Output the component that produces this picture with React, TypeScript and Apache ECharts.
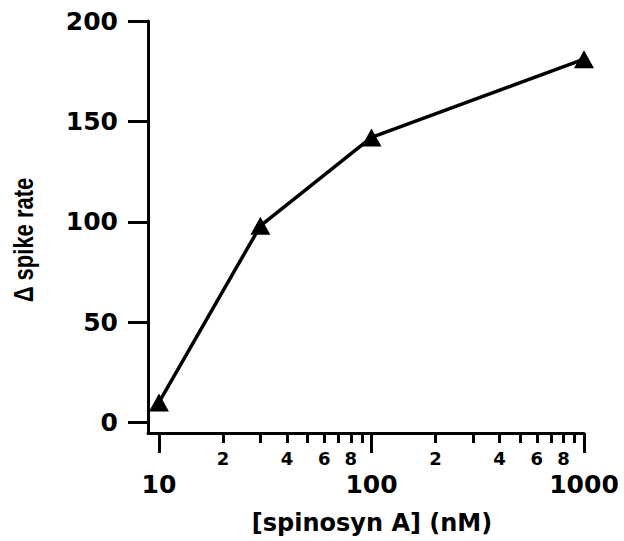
import React, { useEffect, useRef } from "react";
import * as echarts from "echarts";

// Data
const concentrations = [10, 30, 100, 1000];
const spikeRates = [10, 98, 142, 181];

// Axis ticks / labels
const majorTicks = [10, 100, 1000];
const minorTicks = [20, 30, 40, 50, 60, 70, 80, 90, 200, 300, 400, 500, 600, 700, 800, 900];
const minorLabels = [20, 40, 60, 80, 200, 400, 600, 800];
const yTicks = [0, 50, 100, 150, 200];

const xTitle = "[spinosyn A] (nM)";
const yTitle = "\u0394 spike rate";

const FONT = "DejaVu Sans";

export default function App() {
  const ref = useRef<HTMLDivElement>(null);

  useEffect(() => {
    if (!ref.current) return;
    const chart = echarts.init(ref.current, undefined, { renderer: "svg" });
    const xMin = 8.88;
    const xMax = 1000;
    const leadDigit = (v: number) => {
      const p = Math.pow(10, Math.floor(Math.log10(v) + 1e-9));
      return String(Math.round(v / p));
    };
    chart.setOption({
      animation: false,
      backgroundColor: "#ffffff",
      grid: { left: 148, right: 40, top: 21, bottom: 108, containLabel: false },
      xAxis: [
        {
          type: "log",
          logBase: 10,
          min: xMin,
          max: xMax,
          position: "bottom",
          axisLine: { show: true, onZero: false, lineStyle: { color: "#000", width: 3 } },
          axisTick: {
            show: true,
            customValues: majorTicks,
            length: 20,
            lineStyle: { color: "#000", width: 3 },
          },
          minorTick: { show: false },
          splitLine: { show: false },
          axisLabel: {
            customValues: majorTicks,
            margin: 39,
            color: "#000",
            fontFamily: FONT,
            fontWeight: "bold",
            fontSize: 25,
            formatter: (v: number) => String(Math.round(v)),
          },
        },
        {
          type: "log",
          logBase: 10,
          min: xMin,
          max: xMax,
          position: "bottom",
          axisLine: { show: false, onZero: false },
          axisTick: {
            show: true,
            customValues: minorTicks,
            length: 10,
            lineStyle: { color: "#000", width: 3 },
          },
          splitLine: { show: false },
          axisLabel: {
            customValues: minorLabels,
            margin: 16,
            color: "#000",
            fontFamily: FONT,
            fontWeight: "bold",
            fontSize: 18,
            formatter: (v: number) => leadDigit(v),
          },
        },
      ],
      yAxis: {
        type: "value",
        min: -5.2,
        max: 200,
        axisLine: { show: true, onZero: false, lineStyle: { color: "#000", width: 3 } },
        axisTick: {
          show: true,
          customValues: yTicks,
          length: 20,
          lineStyle: { color: "#000", width: 3 },
        },
        splitLine: { show: false },
        axisLabel: {
          customValues: yTicks,
          margin: 30,
          color: "#000",
          fontFamily: FONT,
          fontWeight: "bold",
          fontSize: 25,
        },
      },
      graphic: [
        {
          type: "text",
          x: 372,
          y: 523,
          style: {
            text: xTitle,
            fill: "#000",
            fontFamily: FONT,
            fontWeight: "bold",
            fontSize: 24,
            align: "center",
            verticalAlign: "middle",
          },
        },
        {
          type: "text",
          x: 23,
          y: 240,
          rotation: Math.PI / 2,
          scaleX: 1,
          scaleY: 1.25,
          style: {
            text: yTitle,
            fill: "#000",
            fontFamily: "Liberation Sans",
            fontWeight: "bold",
            fontSize: 22,
            align: "center",
            verticalAlign: "middle",
          },
        },
      ],
      series: [
        {
          type: "line",
          xAxisIndex: 0,
          yAxisIndex: 0,
          data: concentrations.map((c, i) => [c, spikeRates[i]]),
          symbol: "triangle",
          symbolSize: [20, 18],
          lineStyle: { color: "#000", width: 3.5 },
          itemStyle: { color: "#000" },
        },
      ],
    });
    return () => chart.dispose();
  }, []);

  return (
    <div
      ref={ref}
      style={{ position: "absolute", left: 0, top: 0, width: 624, height: 541 }}
    />
  );
}
